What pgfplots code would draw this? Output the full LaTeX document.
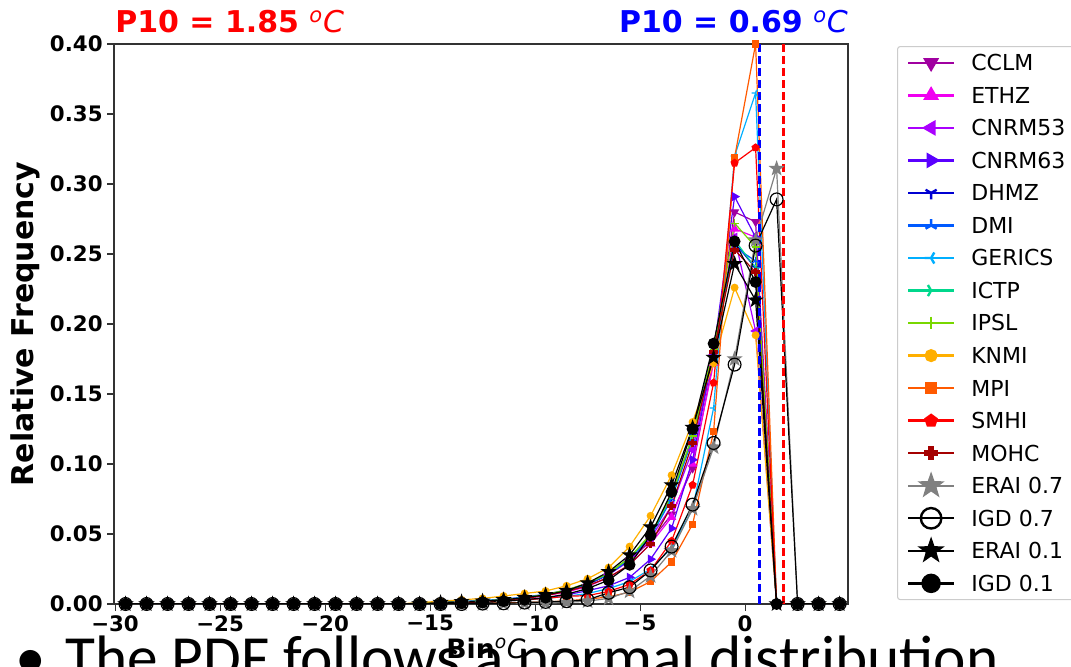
\documentclass[border=0pt]{standalone}
\usepackage{fontspec}
\setmainfont{DejaVu Sans}
\newfontfamily\slidefont{Carlito}
\usepackage{pgfplots}
\usepackage{pgfplotstable}
\pgfplotsset{compat=1.18}

\definecolor{cCCLM}{RGB}{160,0,160}
\definecolor{cETHZ}{RGB}{240,0,240}
\definecolor{cCNa}{RGB}{170,0,255}
\definecolor{cCNb}{RGB}{90,0,255}
\definecolor{cDHMZ}{RGB}{0,0,210}
\definecolor{cDMI}{RGB}{0,90,255}
\definecolor{cGER}{RGB}{0,175,255}
\definecolor{cICTP}{RGB}{0,215,140}
\definecolor{cIPSL}{RGB}{120,215,0}
\definecolor{cKNMI}{RGB}{255,175,0}
\definecolor{cMPI}{RGB}{255,90,0}
\definecolor{cSMHI}{RGB}{255,0,0}
\definecolor{cMOHC}{RGB}{165,0,0}
\definecolor{cERAI}{RGB}{128,128,128}

\pgfdeclareplotmark{tridown}{%
 \pgfpathmoveto{\pgfpointorigin}\pgfpathlineto{\pgfpointpolar{270}{\pgfplotmarksize}}%
 \pgfpathmoveto{\pgfpointorigin}\pgfpathlineto{\pgfpointpolar{30}{\pgfplotmarksize}}%
 \pgfpathmoveto{\pgfpointorigin}\pgfpathlineto{\pgfpointpolar{150}{\pgfplotmarksize}}%
 \pgfusepathqstroke}
\pgfdeclareplotmark{triup}{%
 \pgfpathmoveto{\pgfpointorigin}\pgfpathlineto{\pgfpointpolar{90}{\pgfplotmarksize}}%
 \pgfpathmoveto{\pgfpointorigin}\pgfpathlineto{\pgfpointpolar{210}{\pgfplotmarksize}}%
 \pgfpathmoveto{\pgfpointorigin}\pgfpathlineto{\pgfpointpolar{330}{\pgfplotmarksize}}%
 \pgfusepathqstroke}
\pgfdeclareplotmark{trileft}{%
 \pgfpathmoveto{\pgfpointorigin}\pgfpathlineto{\pgfpointpolar{180}{\pgfplotmarksize}}%
 \pgfpathmoveto{\pgfpointorigin}\pgfpathlineto{\pgfpointpolar{300}{\pgfplotmarksize}}%
 \pgfpathmoveto{\pgfpointorigin}\pgfpathlineto{\pgfpointpolar{60}{\pgfplotmarksize}}%
 \pgfusepathqstroke}
\pgfdeclareplotmark{triright}{%
 \pgfpathmoveto{\pgfpointorigin}\pgfpathlineto{\pgfpointpolar{0}{\pgfplotmarksize}}%
 \pgfpathmoveto{\pgfpointorigin}\pgfpathlineto{\pgfpointpolar{120}{\pgfplotmarksize}}%
 \pgfpathmoveto{\pgfpointorigin}\pgfpathlineto{\pgfpointpolar{240}{\pgfplotmarksize}}%
 \pgfusepathqstroke}
\pgfdeclareplotmark{fstar}{%
 \pgfpathmoveto{\pgfpointpolar{90}{\pgfplotmarksize}}%
 \pgfpathlineto{\pgfpointpolar{126}{0.4\pgfplotmarksize}}%
 \pgfpathlineto{\pgfpointpolar{162}{\pgfplotmarksize}}%
 \pgfpathlineto{\pgfpointpolar{198}{0.4\pgfplotmarksize}}%
 \pgfpathlineto{\pgfpointpolar{234}{\pgfplotmarksize}}%
 \pgfpathlineto{\pgfpointpolar{270}{0.4\pgfplotmarksize}}%
 \pgfpathlineto{\pgfpointpolar{306}{\pgfplotmarksize}}%
 \pgfpathlineto{\pgfpointpolar{342}{0.4\pgfplotmarksize}}%
 \pgfpathlineto{\pgfpointpolar{18}{\pgfplotmarksize}}%
 \pgfpathlineto{\pgfpointpolar{54}{0.4\pgfplotmarksize}}%
 \pgfpathclose\pgfusepathqfillstroke}
\pgfdeclareplotmark{fplus}{%
 \pgfpathmoveto{\pgfpoint{-0.33\pgfplotmarksize}{\pgfplotmarksize}}%
 \pgfpathlineto{\pgfpoint{0.33\pgfplotmarksize}{\pgfplotmarksize}}%
 \pgfpathlineto{\pgfpoint{0.33\pgfplotmarksize}{0.33\pgfplotmarksize}}%
 \pgfpathlineto{\pgfpoint{\pgfplotmarksize}{0.33\pgfplotmarksize}}%
 \pgfpathlineto{\pgfpoint{\pgfplotmarksize}{-0.33\pgfplotmarksize}}%
 \pgfpathlineto{\pgfpoint{0.33\pgfplotmarksize}{-0.33\pgfplotmarksize}}%
 \pgfpathlineto{\pgfpoint{0.33\pgfplotmarksize}{-\pgfplotmarksize}}%
 \pgfpathlineto{\pgfpoint{-0.33\pgfplotmarksize}{-\pgfplotmarksize}}%
 \pgfpathlineto{\pgfpoint{-0.33\pgfplotmarksize}{-0.33\pgfplotmarksize}}%
 \pgfpathlineto{\pgfpoint{-\pgfplotmarksize}{-0.33\pgfplotmarksize}}%
 \pgfpathlineto{\pgfpoint{-\pgfplotmarksize}{0.33\pgfplotmarksize}}%
 \pgfpathlineto{\pgfpoint{-0.33\pgfplotmarksize}{0.33\pgfplotmarksize}}%
 \pgfpathclose\pgfusepathqfillstroke}

\pgfplotstableread{
x CCLM ETHZ CNa CNb DHMZ DMI GER ICTP IPSL KNMI MPI SMHI MOHC ERAIa IGDa ERAIb IGDb
-29.5 0 0 0 0 0 0 0 0 0 0 0 0 0 0 0 0 0
-28.5 0 0 0 0 0 0 0 0 0 0 0 0 0 0 0 0 0
-27.5 0 0 0 0 0 0 0 0 0 0 0 0 0 0 0 0 0
-26.5 0 0 0 0 0 0 0 0 0 0 0 0 0 0 0 0 0
-25.5 0 0 0 0 0 0 0 0 0 0 0 0 0 0 0 0 0
-24.5 0 0 0 0 0 0 0 0 0 0 0 0 0 0 0 0 0
-23.5 0 0 0 0 0 0 0 0 0 0 0 0 0 0 0 0 0
-22.5 0 0 0 0 0 0 0 0 0 0 0 0 0 0 0 0 0
-21.5 0 0 0 0 0 0 0 0 0 0 0 0 0 0 0 0 0
-20.5 0 0 0 0 0 0 0 0 0 0 0 0 0 0 0 0 0
-19.5 0 0 0 0 0 0 0 0 0 0 0 0 0 0 0 0 0
-18.5 0 0 0 0 0 0 0 0 0 0 0 0 0 0 0 0 0
-17.5 0 0 0 0 0 0 0 0 0 0 0 0 0 0 0 0 0
-16.5 0 0 0 0 0 0 0 0 0 0 0 0 0 0 0 0 0
-15.5 0 0 0.0005 0 0.0005 0.0005 0 0.0005 0.0005 0.001 0 0 0 0 0 0 0
-14.5 0.001 0.0008 0.001 0.0005 0.001 0.001 0.0005 0.001 0.001 0.002 0 0.0005 0.0008 0 0 0.001 0
-13.5 0.0015 0.0012 0.0015 0.001 0.0015 0.0018 0.001 0.0015 0.0015 0.003 0.0003 0.001 0.0012 0 0 0.0015 0.0005
-12.5 0.002 0.002 0.002 0.0015 0.0022 0.0025 0.0015 0.0022 0.0022 0.004 0.0005 0.0015 0.002 0 0.0003 0.002 0.001
-11.5 0.003 0.0028 0.003 0.0022 0.003 0.0035 0.002 0.003 0.003 0.0057 0.0008 0.002 0.0028 0.0002 0.0005 0.003 0.002
-10.5 0.0045 0.004 0.0045 0.0032 0.0045 0.005 0.003 0.0045 0.0045 0.0075 0.001 0.003 0.004 0.0004 0.001 0.0045 0.003
-9.5 0.0065 0.006 0.0065 0.0045 0.0065 0.007 0.004 0.0065 0.0068 0.0093 0.0015 0.004 0.006 0.0007 0.0015 0.0065 0.0045
-8.5 0.0095 0.0085 0.0095 0.0065 0.0095 0.01 0.0055 0.0098 0.01 0.013 0.0022 0.0055 0.009 0.0012 0.002 0.0095 0.007
-7.5 0.014 0.0125 0.014 0.0095 0.014 0.0145 0.0075 0.0145 0.015 0.018 0.0035 0.006 0.013 0.002 0.003 0.015 0.011
-6.5 0.021 0.019 0.021 0.013 0.021 0.021 0.011 0.022 0.022 0.026 0.005 0.009 0.019 0.004 0.008 0.023 0.017
-5.5 0.031 0.028 0.031 0.019 0.032 0.032 0.016 0.033 0.033 0.041 0.0085 0.014 0.028 0.009 0.012 0.035 0.028
-4.5 0.045 0.043 0.047 0.032 0.049 0.048 0.025 0.049 0.05 0.063 0.016 0.024 0.043 0.02 0.024 0.055 0.049
-3.5 0.064 0.062 0.07 0.054 0.076 0.075 0.04 0.077 0.078 0.092 0.03 0.045 0.07 0.038 0.041 0.085 0.08
-2.5 0.097 0.1 0.11 0.103 0.12 0.118 0.068 0.12 0.12 0.13 0.057 0.085 0.115 0.068 0.071 0.126 0.125
-1.5 0.175 0.172 0.178 0.18 0.185 0.182 0.14 0.183 0.182 0.172 0.123 0.158 0.18 0.112 0.115 0.176 0.186
-0.5 0.28 0.268 0.262 0.291 0.258 0.255 0.32 0.26 0.272 0.226 0.319 0.315 0.253 0.175 0.171 0.243 0.259
0.5 0.273 0.262 0.195 0.262 0.24 0.245 0.365 0.24 0.255 0.192 0.4 0.326 0.237 0.26 0.256 0.217 0.23
1.5 0 0 0 0 0 0 0 0 0 0 0 0 0 0.311 0.289 0 0
2.5 0 0 0 0 0 0 0 0 0 0 0 0 0 0 0 0 0
3.5 0 0 0 0 0 0 0 0 0 0 0 0 0 0 0 0 0
4.5 0 0 0 0 0 0 0 0 0 0 0 0 0 0 0 0 0
}\pdfdata

\begin{document}
\begin{tikzpicture}
% text of the slide behind the chart
\node[font=\slidefont\fontsize{46}{50}\selectfont, anchor=base west, inner sep=0pt] at (11.25pt,-9pt) {•};
\node[font=\slidefont\fontsize{46}{50}\selectfont, anchor=base west, inner sep=0pt] at (48.75pt,-9pt) {The PDF follows a normal distribution};
\begin{axis}[
  at={(85.5pt,47.25pt)}, anchor=south west,
  scale only axis, width=550.5pt, height=420pt,
  xmin=-30.05, xmax=4.9, ymin=0, ymax=0.4,
  xtick={-30,-25,-20,-15,-10,-5,0},
  xticklabels={−30,−25,−20,−15,−10,−5,0},
  ytick={0,0.05,0.1,0.15,0.2,0.25,0.3,0.35,0.4},
  yticklabels={0.00,0.05,0.10,0.15,0.20,0.25,0.30,0.35,0.40},
  tick pos=left, tick align=outside, major tick length=5pt,
  ticklabel style={font=\bfseries\fontsize{16}{18}\selectfont},
  axis line style={black!80, line width=0.9pt},
  every tick/.style={black!80, line width=0.8pt},
  xlabel={\textbf{Bin}{\itshape\textsuperscript{o}C}},
  xlabel style={at={(axis description cs:0.5068,-0.0982)}, anchor=base, font=\fontsize{20}{22}\selectfont},
  ylabel={\textbf{Relative Frequency}},
  ylabel style={at={(axis description cs:-0.1213,0.5)}, anchor=center, font=\fontsize{22.5}{26}\selectfont},
  legend cell align=left,
  legend image code/.code={\draw[mark repeat=2,mark phase=2,#1,line width=1.8pt, every mark/.append style={scale=1.6}] plot coordinates {(0pt,0pt) (17.25pt,0pt) (34.5pt,0pt)};},
  legend style={at={(axis description cs:1.0668,0.9964)}, anchor=north west,
    draw=black!20, line width=0.8pt, rounded corners=2pt, fill=white,
    font=\fontsize{16.5}{18}\selectfont, inner xsep=7pt, inner ysep=0pt, row sep=0pt,
    nodes={inner sep=0pt, text height=18.1pt, text depth=6.3pt, anchor=west},
    /tikz/every odd column/.append style={column sep=12pt}},
]
\addplot[cCCLM, line width=0.9pt, mark=triangle*, mark size=3.2pt, mark options={solid, fill=cCCLM, rotate=180}] table[x=x,y=CCLM]{\pdfdata};
\addlegendentry{CCLM}
\addplot[cETHZ, line width=0.9pt, mark=triangle*, mark size=3.2pt, mark options={solid, fill=cETHZ}] table[x=x,y=ETHZ]{\pdfdata};
\addlegendentry{ETHZ}
\addplot[cCNa, line width=0.9pt, mark=triangle*, mark size=3.2pt, mark options={solid, fill=cCNa, rotate=90}] table[x=x,y=CNa]{\pdfdata};
\addlegendentry{CNRM53}
\addplot[cCNb, line width=0.9pt, mark=triangle*, mark size=3.2pt, mark options={solid, fill=cCNb, rotate=-90}] table[x=x,y=CNb]{\pdfdata};
\addlegendentry{CNRM63}
\addplot[cDHMZ, line width=0.9pt, mark=tridown, mark size=3pt, mark options={solid}] table[x=x,y=DHMZ]{\pdfdata};
\addlegendentry{DHMZ}
\addplot[cDMI, line width=0.9pt, mark=triup, mark size=3pt, mark options={solid}] table[x=x,y=DMI]{\pdfdata};
\addlegendentry{DMI}
\addplot[cGER, line width=0.9pt, mark=trileft, mark size=3pt, mark options={solid}] table[x=x,y=GER]{\pdfdata};
\addlegendentry{GERICS}
\addplot[cICTP, line width=0.9pt, mark=triright, mark size=3pt, mark options={solid}] table[x=x,y=ICTP]{\pdfdata};
\addlegendentry{ICTP}
\addplot[cIPSL, line width=0.9pt, mark=+, mark size=3pt, mark options={solid}] table[x=x,y=IPSL]{\pdfdata};
\addlegendentry{IPSL}
\addplot[cKNMI, line width=0.9pt, mark=*, mark size=2.5pt, mark options={solid, fill=cKNMI}] table[x=x,y=KNMI]{\pdfdata};
\addlegendentry{KNMI}
\addplot[cMPI, line width=0.9pt, mark=square*, mark size=2.3pt, mark options={solid, fill=cMPI}] table[x=x,y=MPI]{\pdfdata};
\addlegendentry{MPI}
\addplot[cSMHI, line width=0.9pt, mark=pentagon*, mark size=2.7pt, mark options={solid, fill=cSMHI}] table[x=x,y=SMHI]{\pdfdata};
\addlegendentry{SMHI}
\addplot[cMOHC, line width=0.9pt, mark=fplus, mark size=2.7pt, mark options={solid, fill=cMOHC}] table[x=x,y=MOHC]{\pdfdata};
\addlegendentry{MOHC}
\addplot[cERAI, line width=0.9pt, mark=fstar, mark size=5pt, mark options={solid, fill=cERAI}] table[x=x,y=ERAIa]{\pdfdata};
\addlegendentry{ERAI 0.7}
\addplot[black, line width=0.9pt, mark=o, mark size=4.8pt, mark options={solid}] table[x=x,y=IGDa]{\pdfdata};
\addlegendentry{IGD 0.7}
\addplot[black, line width=0.9pt, mark=fstar, mark size=5pt, mark options={solid, fill=black}] table[x=x,y=ERAIb]{\pdfdata};
\addlegendentry{ERAI 0.1}
\addplot[black, line width=0.9pt, mark=*, mark size=4pt, mark options={solid, fill=black}] table[x=x,y=IGDb]{\pdfdata};
\addlegendentry{IGD 0.1}
\addplot[blue, dashed, line width=2.2pt, dash pattern=on 6pt off 3pt, forget plot] coordinates {(0.69,0) (0.69,0.4)};
\addplot[red, dashed, line width=2.2pt, dash pattern=on 6pt off 3pt, forget plot] coordinates {(1.85,0) (1.85,0.4)};
\end{axis}
\node[anchor=base west, inner sep=0pt, text=red, font=\bfseries\fontsize{22.5}{26}\selectfont] at (86.25pt,475.5pt) {P10 = 1.85 {\mdseries\itshape\textsuperscript{o}C}};
\node[anchor=base east, inner sep=0pt, text=blue, font=\bfseries\fontsize{22.5}{26}\selectfont] at (636pt,475.5pt) {P10 = 0.69 {\mdseries\itshape\textsuperscript{o}C}};
\pgfresetboundingbox
\path[use as bounding box] (0pt,0pt) rectangle (803.25pt,500.25pt);
\end{tikzpicture}
\end{document}
